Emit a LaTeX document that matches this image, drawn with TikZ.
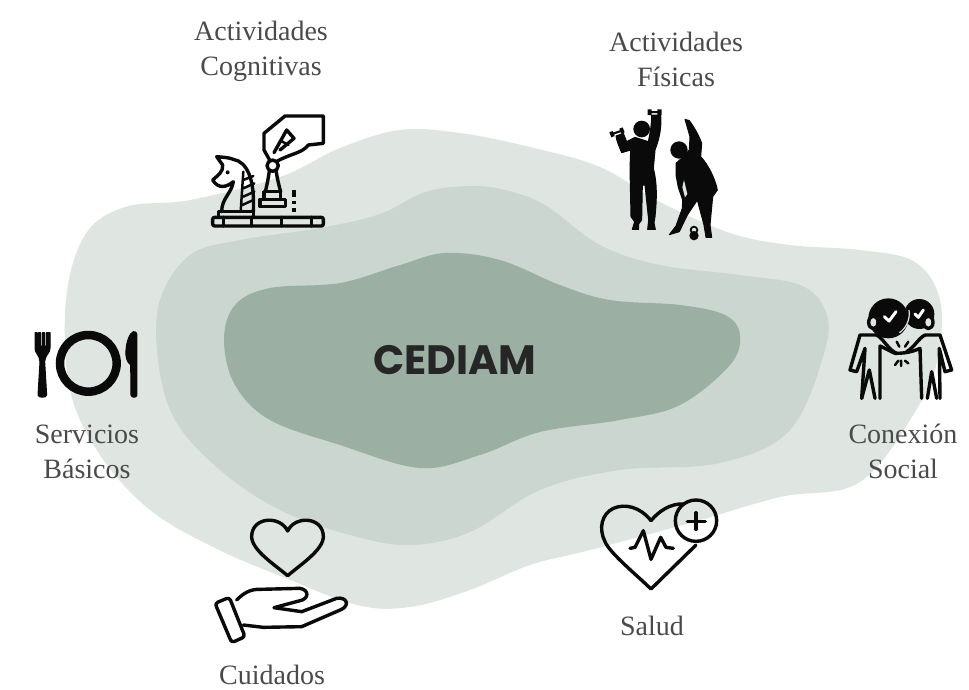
\documentclass[tikz,border=0pt]{standalone}
\usepackage{fontspec}
\setmainfont{Liberation Serif}
\newfontfamily\titlefont{Poppins Bold}
\definecolor{blobA}{HTML}{DFE6E2}
\definecolor{blobB}{HTML}{CBD6D1}
\definecolor{blobC}{HTML}{9BB0A3}
\definecolor{labelgrey}{HTML}{4A4A4A}
\definecolor{ink}{HTML}{0A0A0A}
\tikzset{
  lbl/.style={font=\fontsize{28}{35}\selectfont,text=labelgrey,align=center,inner sep=0pt},
  ico/.style={draw=ink,line width=3.4pt,line join=round,line cap=round},
  icothin/.style={draw=ink,line width=2.5pt,line join=round,line cap=round},
  sil/.style={fill=ink,draw=ink,line width=1pt,line join=round},
}
\begin{document}
\begin{tikzpicture}[x=1pt,y=-1pt]
\useasboundingbox (0,0) rectangle (969,689);
\fill[white] (0,0) rectangle (969,689);
% blobs
\fill[blobA] plot[smooth cycle,tension=.6] coordinates {(400,130)(340,148)(280,177)(190,200)(125,207)(85,235)(66,300)(70,390)(100,455)(150,510)(215,548)(283,577)(357,605)(410,607)(470,590)(530,565)(590,550)(690,523)(780,497)(860,482)(918,407)(938,357)(940,300)(915,262)(860,250)(790,245)(730,233)(660,202)(600,167)(530,147)(460,133)};
\fill[blobB] plot[smooth cycle,tension=.6] coordinates {(470,186)(425,192)(380,214)(320,228)(240,240)(190,255)(160,300)(158,360)(175,420)(220,470)(280,510)(350,535)(410,545)(470,532)(540,490)(620,470)(720,463)(790,430)(825,350)(825,310)(800,285)(740,275)(660,265)(600,245)(545,205)(505,190)};
\fill[blobC] plot[smooth cycle,tension=.6] coordinates {(445,253)(400,265)(340,283)(270,288)(235,305)(224,340)(235,385)(270,420)(340,445)(420,468)(480,455)(540,432)(620,420)(680,405)(730,365)(740,335)(725,315)(680,305)(610,300)(560,285)(500,260)};
\node[inner sep=0pt,font=\titlefont\fontsize{41}{41}\selectfont,text=black!85] (cediam) at (455,360) {CEDIAM};
% labels
\node[lbl] (cog) at (261,51) {Actividades\\Cognitivas};
\node[lbl] (fis) at (676,59) {Actividades\\Físicas};
\node[lbl] (ser) at (87,452) {Servicios\\Básicos};
\node[lbl] (con) at (903,451) {Conexión\\Social};
\node[lbl] (cui) at (272,675) {Cuidados};
\node[lbl] (sal) at (652,626) {Salud};
% chess
\begin{scope}[shift={(190,100)},scale=1/3]
\draw[ico,rounded corners=2pt] (68,352) rectangle (400,378);
\draw[ico] (100,352)--(100,378) (185,352)--(185,378) (275,352)--(275,378) (365,352)--(365,378);
\draw[ico] (85,335) rectangle (190,352);
\draw[ico] (95,335) .. controls (95,295) and (125,280) .. (130,245) .. controls (110,262) and (85,268) .. (68,240) .. controls (85,225) and (100,215) .. (98,195) -- (80,170) .. controls (100,172) and (115,172) .. (130,178) .. controls (170,185) and (195,235) .. (190,335);
\draw[icothin] (152,335)--(160,215) (160,240)--(190,228) (160,265)--(193,250) (160,290)--(193,275) (157,315)--(190,300);
\fill[ink] (113,217) circle (6);
\draw[ico] (210,298) rectangle (287,320);
\draw[ico] (222,298) -- (222,275) -- (272,275) -- (272,298);
\draw[ico] (226,275) .. controls (232,250) and (235,235) .. (238,212) (272,275) .. controls (265,250) and (262,235) .. (258,212);
\draw[ico] (248,197) circle (17);
\draw[ico] (240,182) -- (222,150) -- (222,100) -- (285,48) -- (400,48) -- (400,130) -- (355,135) .. controls (335,160) and (310,158) .. (262,183);
\draw[ico] (252,158) -- (290,90) -- (312,115) -- (270,150);
\draw[icothin] (272,122) -- (295,135);
\draw[line width=3.5pt,draw=ink] (312,270)--(312,292) (312,303)--(312,313) (312,325)--(312,336);
\end{scope}
% fitness
\begin{scope}[shift={(600,100)},scale=1/3]
\fill[ink] (125,87) circle (25);
\fill[sil] (145,125) .. controls (150,100) and (155,75) .. (155,45) -- (182,45) .. controls (185,85) and (178,115) .. (165,150) -- (160,205) .. controls (172,250) and (170,300) .. (165,350) -- (162,368) -- (166,388) -- (143,388) -- (146,360) -- (135,255) -- (127,255) -- (125,360) -- (116,372) -- (116,388) -- (97,388) -- (104,365) -- (93,350) -- (90,205) -- (92,150) -- (65,158) .. controls (58,140) and (50,125) .. (48,108) -- (70,100) -- (80,125) -- (105,112) -- cycle;
\fill[ink] (143,28) rectangle (155,45) (172,28) rectangle (185,45) (150,33) rectangle (178,39);
\fill[ink] (28,97) -- (38,93) -- (44,108) -- (34,112) -- cycle (58,86) -- (68,82) -- (74,97) -- (64,101) -- cycle (38,98) -- (62,90) -- (64,96) -- (40,104) -- cycle;
\fill[ink] (237,150) circle (26);
\fill[sil] (255,58) -- (268,62) .. controls (285,85) and (298,110) .. (305,130) -- (302,170) .. controls (325,195) and (345,235) .. (352,270) -- (338,290) -- (330,375) -- (335,412) -- (318,412) -- (312,375) -- (292,300) -- (262,345) -- (238,395) -- (208,404) -- (228,378) -- (247,325) -- (248,300) -- (235,262) -- (228,225) -- (228,190) -- (250,170) -- (268,150) -- (270,110) -- cycle;
\fill[blobA] (252,240) -- (262,282) -- (255,292) -- (247,262) -- cycle;
\draw[line width=1.8pt,draw=ink] (282,390) circle (10);
\fill[ink] (282,407) circle (14);
\end{scope}
% connection
\begin{scope}[shift={(840,290)},scale=1/3]
\fill[ink] (238,72) circle (45);
\fill[ink] (145,85) circle (60);
\fill[ink] (120,125) -- (150,142) -- (172,130) -- cycle;
\draw[line width=1.2pt,draw=blobA] (207,60) .. controls (212,90) and (195,118) .. (178,128);
\draw[white,line width=3pt,line cap=round,line join=round] (133,80)--(147,93)--(168,65);
\draw[white,line width=3pt,line cap=round,line join=round] (225,72)--(235,82)--(250,60);
\draw[ico,fill=blobA] (100,97) ellipse (14 and 19);
\draw[ico,fill=blobA] (265,97) ellipse (14 and 19);
\draw[ico] (120,325)--(120,168)--(165,190) .. controls (190,190) and (215,187) .. (240,175) -- (245,325);
\draw[ico] (110,135) -- (60,135) -- (30,240) -- (50,245) -- (75,175) -- (65,325);
\draw[ico] (110,135) .. controls (130,145) and (145,180) .. (170,190);
\draw[ico] (255,135) -- (300,135) -- (335,240) -- (315,245) -- (298,175) -- (300,325);
\draw[ico] (255,135) .. controls (235,145) and (225,170) .. (200,185);
\draw[ico] (65,325)--(88,240)--(105,325) (262,325)--(275,245)--(290,325);
\draw[icothin] (170,155)--(178,170) (205,155)--(195,170) (165,225)--(175,212) (183,228)--(183,212) (205,220)--(195,212);
\end{scope}
% food
\begin{scope}[shift={(20,320)},scale=1/3]
\draw[draw=ink,line width=8.5pt] (205,130) circle (85);
\fill[sil] (45,38) -- (51,38) -- (51,78) -- (55,78) -- (55,38) -- (62,38) -- (62,78) -- (67,78) -- (67,38) -- (74,38) -- (74,78) -- (79,78) -- (79,38) -- (90,38) -- (90,85) .. controls (90,100) and (75,105) .. (74,125) -- (80,225) .. controls (80,234) and (54,234) .. (54,225) -- (60,125) .. controls (59,105) and (45,100) .. (45,85) -- cycle;
\fill[sil] (340,35) .. controls (350,35) and (351,40) .. (351,50) -- (351,225) .. controls (351,234) and (333,234) .. (333,225) -- (332,135) .. controls (320,125) and (316,110) .. (318,90) .. controls (320,65) and (328,40) .. (340,35) -- cycle;
\end{scope}
% care
\begin{scope}[shift={(200,510)},scale=1/3]
\draw[ico] (263,63) .. controls (240,15) and (155,20) .. (155,80) .. controls (155,120) and (225,165) .. (263,197) .. controls (300,165) and (370,120) .. (370,80) .. controls (370,20) and (285,15) .. (263,63) -- cycle;
\draw[ico,rounded corners=3pt] (45,280) -- (88,262) -- (135,380) -- (95,398) -- cycle;
\draw[ico] (110,270) .. controls (130,250) and (150,237) .. (180,238) -- (300,235) .. controls (330,240) and (325,268) .. (300,272) -- (222,293) -- (305,305) -- (410,265) .. controls (440,260) and (450,285) .. (425,298) -- (305,350) -- (190,352) -- (130,345);
\end{scope}
% health
\begin{scope}[shift={(590,490)},scale=1/3]
\draw[ico] (183,92) .. controls (150,50) and (105,40) .. (70,55) .. controls (35,72) and (25,115) .. (45,155) .. controls (60,190) and (140,255) .. (183,297) -- (318,165);
\draw[ico] (183,92) .. controls (205,65) and (240,40) .. (280,42);
\draw[ico] (318,92) circle (62);
\draw[ico] (318,68)--(318,118) (292,94)--(346,94);
\draw[ico] (120,175)--(135,172)--(160,122)--(183,208)--(212,142)--(228,172)--(250,175);
\end{scope}
\end{tikzpicture}
\end{document}
